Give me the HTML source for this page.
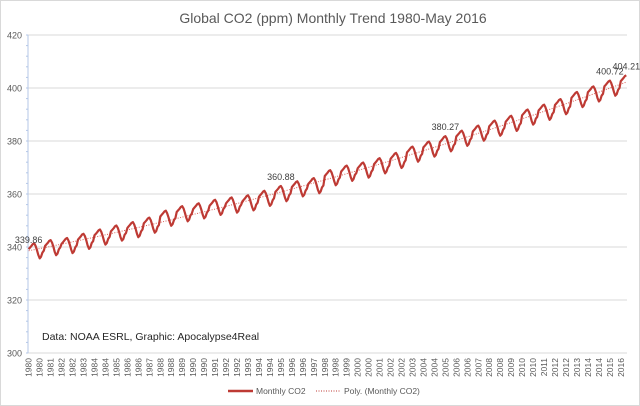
<!DOCTYPE html>
<html><head><meta charset="utf-8"><style>
html,body{margin:0;padding:0;background:#fff;}
svg{display:block;font-family:"Liberation Sans",sans-serif;}
</style></head><body>
<svg id="chart" width="640" height="406">
<rect x="0.5" y="0.5" width="639" height="405" fill="#fff" stroke="#d9d9d9"/>
<text x="333" y="23" text-anchor="middle" font-size="14" fill="#595959">Global CO2 (ppm) Monthly Trend 1980-May 2016</text>
<g id="grid"></g><g id="axes"></g><g id="series"></g><g id="labels"></g>
<text x="42" y="340" font-size="10.5" fill="#262626">Data: NOAA ESRL, Graphic: Apocalypse4Real</text>
<g>
<line x1="228" y1="391" x2="253" y2="391" stroke="#be3a34" stroke-width="2.5"/>
<text x="256" y="394" font-size="8.5" fill="#595959">Monthly CO2</text>
<line x1="316" y1="391" x2="340" y2="391" stroke="#be3a34" stroke-width="1" stroke-dasharray="1,1.5"/>
<text x="344" y="394" font-size="8.5" fill="#595959">Poly. (Monthly CO2)</text>
</g>
</svg>
<script>
const years=[1980,1981,1982,1983,1984,1985,1986,1987,1988,1989,1990,1991,1992,1993,1994,1995,1996,1997,1998,1999,2000,2001,2002,2003,2004,2005,2006,2007,2008,2009,2010,2011,2012,2013,2014,2015,2016];
const annualMeans=[338.9,340.1,340.9,342.5,344.1,345.6,346.9,348.6,351.2,352.9,354.0,355.3,356.2,357.0,358.7,360.5,362.3,363.5,366.5,368.2,369.4,371.0,373.0,375.4,377.3,379.3,381.4,383.3,385.2,387.0,389.4,391.2,393.3,396.0,398.1,400.3,402.3];
const seasonal=[0.3,0.9,1.5,2.2,2.5,1.6,0.0,-1.9,-3.2,-2.6,-1.0,-0.3];
const yTicks=[300,320,340,360,380,400,420];
const annotations=[{i:0,v:"339.86"},{i:184,v:"360.88"},{i:304,v:"380.27"},{i:424,v:"400.72"},{i:436,v:"404.21"}];
const NS="http://www.w3.org/2000/svg";
const X0=28,X1=627,Y0=353,Y1=35,VMIN=300,VMAX=420;
const values=[];
const monthLabels=[];
for(let y=0;y<years.length;y++){for(let m=0;m<12;m++){
  if(years[y]===2016&&m>4)break;
  values.push(annualMeans[y]+seasonal[m]);monthLabels.push(years[y]);}}
const n=values.length;
const xs=i=>X0+(i+0.5)*(X1-X0)/n;
const ys=v=>Y0-(v-VMIN)/(VMAX-VMIN)*(Y0-Y1);
function mk(tag,attrs,parent){const e=document.createElementNS(NS,tag);for(const k in attrs)e.setAttribute(k,attrs[k]);parent.appendChild(e);return e;}
const grid=document.getElementById('grid'),axes=document.getElementById('axes'),series=document.getElementById('series'),labels=document.getElementById('labels');
yTicks.forEach(t=>{
  const l=mk('line',{x1:X0,x2:X1,y1:ys(t),y2:ys(t),stroke:'#d9d9d9','stroke-width':1},grid);
  
  
  const tx=mk('text',{x:X0-6,y:ys(t)+3.5,'text-anchor':'end','font-size':9,fill:'#595959'},axes);
  tx.textContent=t;
  
  
});
const ax=mk('line',{x1:X0,x2:X0,y1:Y1,y2:Y0,stroke:'#b4c7e7','stroke-width':1},axes);


for(let v=VMIN;v<=VMAX;v+=4){const t=mk('line',{x1:X0-2,x2:X0,y1:ys(v),y2:ys(v),stroke:'#b4c7e7'},axes);

}
for(let i=0;i<n;i+=8){
  const x=xs(i);
  const t=mk('text',{x:0,y:0,'font-size':8.5,fill:'#595959','text-anchor':'end',transform:`translate(${x+3},${Y0+5}) rotate(-90)`},axes);
  t.textContent=monthLabels[i];
  
  
}
// quadratic fit
let S=[0,0,0,0,0],T=[0,0,0];
values.forEach((v,i)=>{const t=i/n;S[0]+=1;S[1]+=t;S[2]+=t*t;S[3]+=t*t*t;S[4]+=t*t*t*t;T[0]+=v;T[1]+=v*t;T[2]+=v*t*t;});
const A=[[S[0],S[1],S[2],T[0]],[S[1],S[2],S[3],T[1]],[S[2],S[3],S[4],T[2]]];
for(let c=0;c<3;c++){for(let r=c+1;r<3;r++){const f=A[r][c]/A[c][c];for(let k=c;k<4;k++)A[r][k]-=f*A[c][k];}}
const co=[0,0,0];for(let r=2;r>=0;r--){let s=A[r][3];for(let k=r+1;k<3;k++)s-=A[r][k]*co[k];co[r]=s/A[r][r];}
let pd='';for(let i=0;i<n;i++){const t=i/n;const v=co[0]+co[1]*t+co[2]*t*t;pd+=(i?'L':'M')+xs(i).toFixed(1)+','+ys(v).toFixed(1);}
const poly=mk('path',{d:pd,fill:'none',stroke:'#d9605a','stroke-width':1,'stroke-dasharray':'1,1.5'},series);


let d='';values.forEach((v,i)=>{d+=(i?'L':'M')+xs(i).toFixed(1)+','+ys(v).toFixed(1);});
const line=mk('path',{d:d,fill:'none',stroke:'#be3a34','stroke-width':2.2,'stroke-linejoin':'round'},series);


annotations.forEach(a=>{
  const t=mk('text',{x:xs(a.i),y:ys(values[a.i])-6,'text-anchor':'middle','font-size':9,fill:'#404040'},labels);
  t.textContent=a.v;
  
  
});
</script>
</body></html>
